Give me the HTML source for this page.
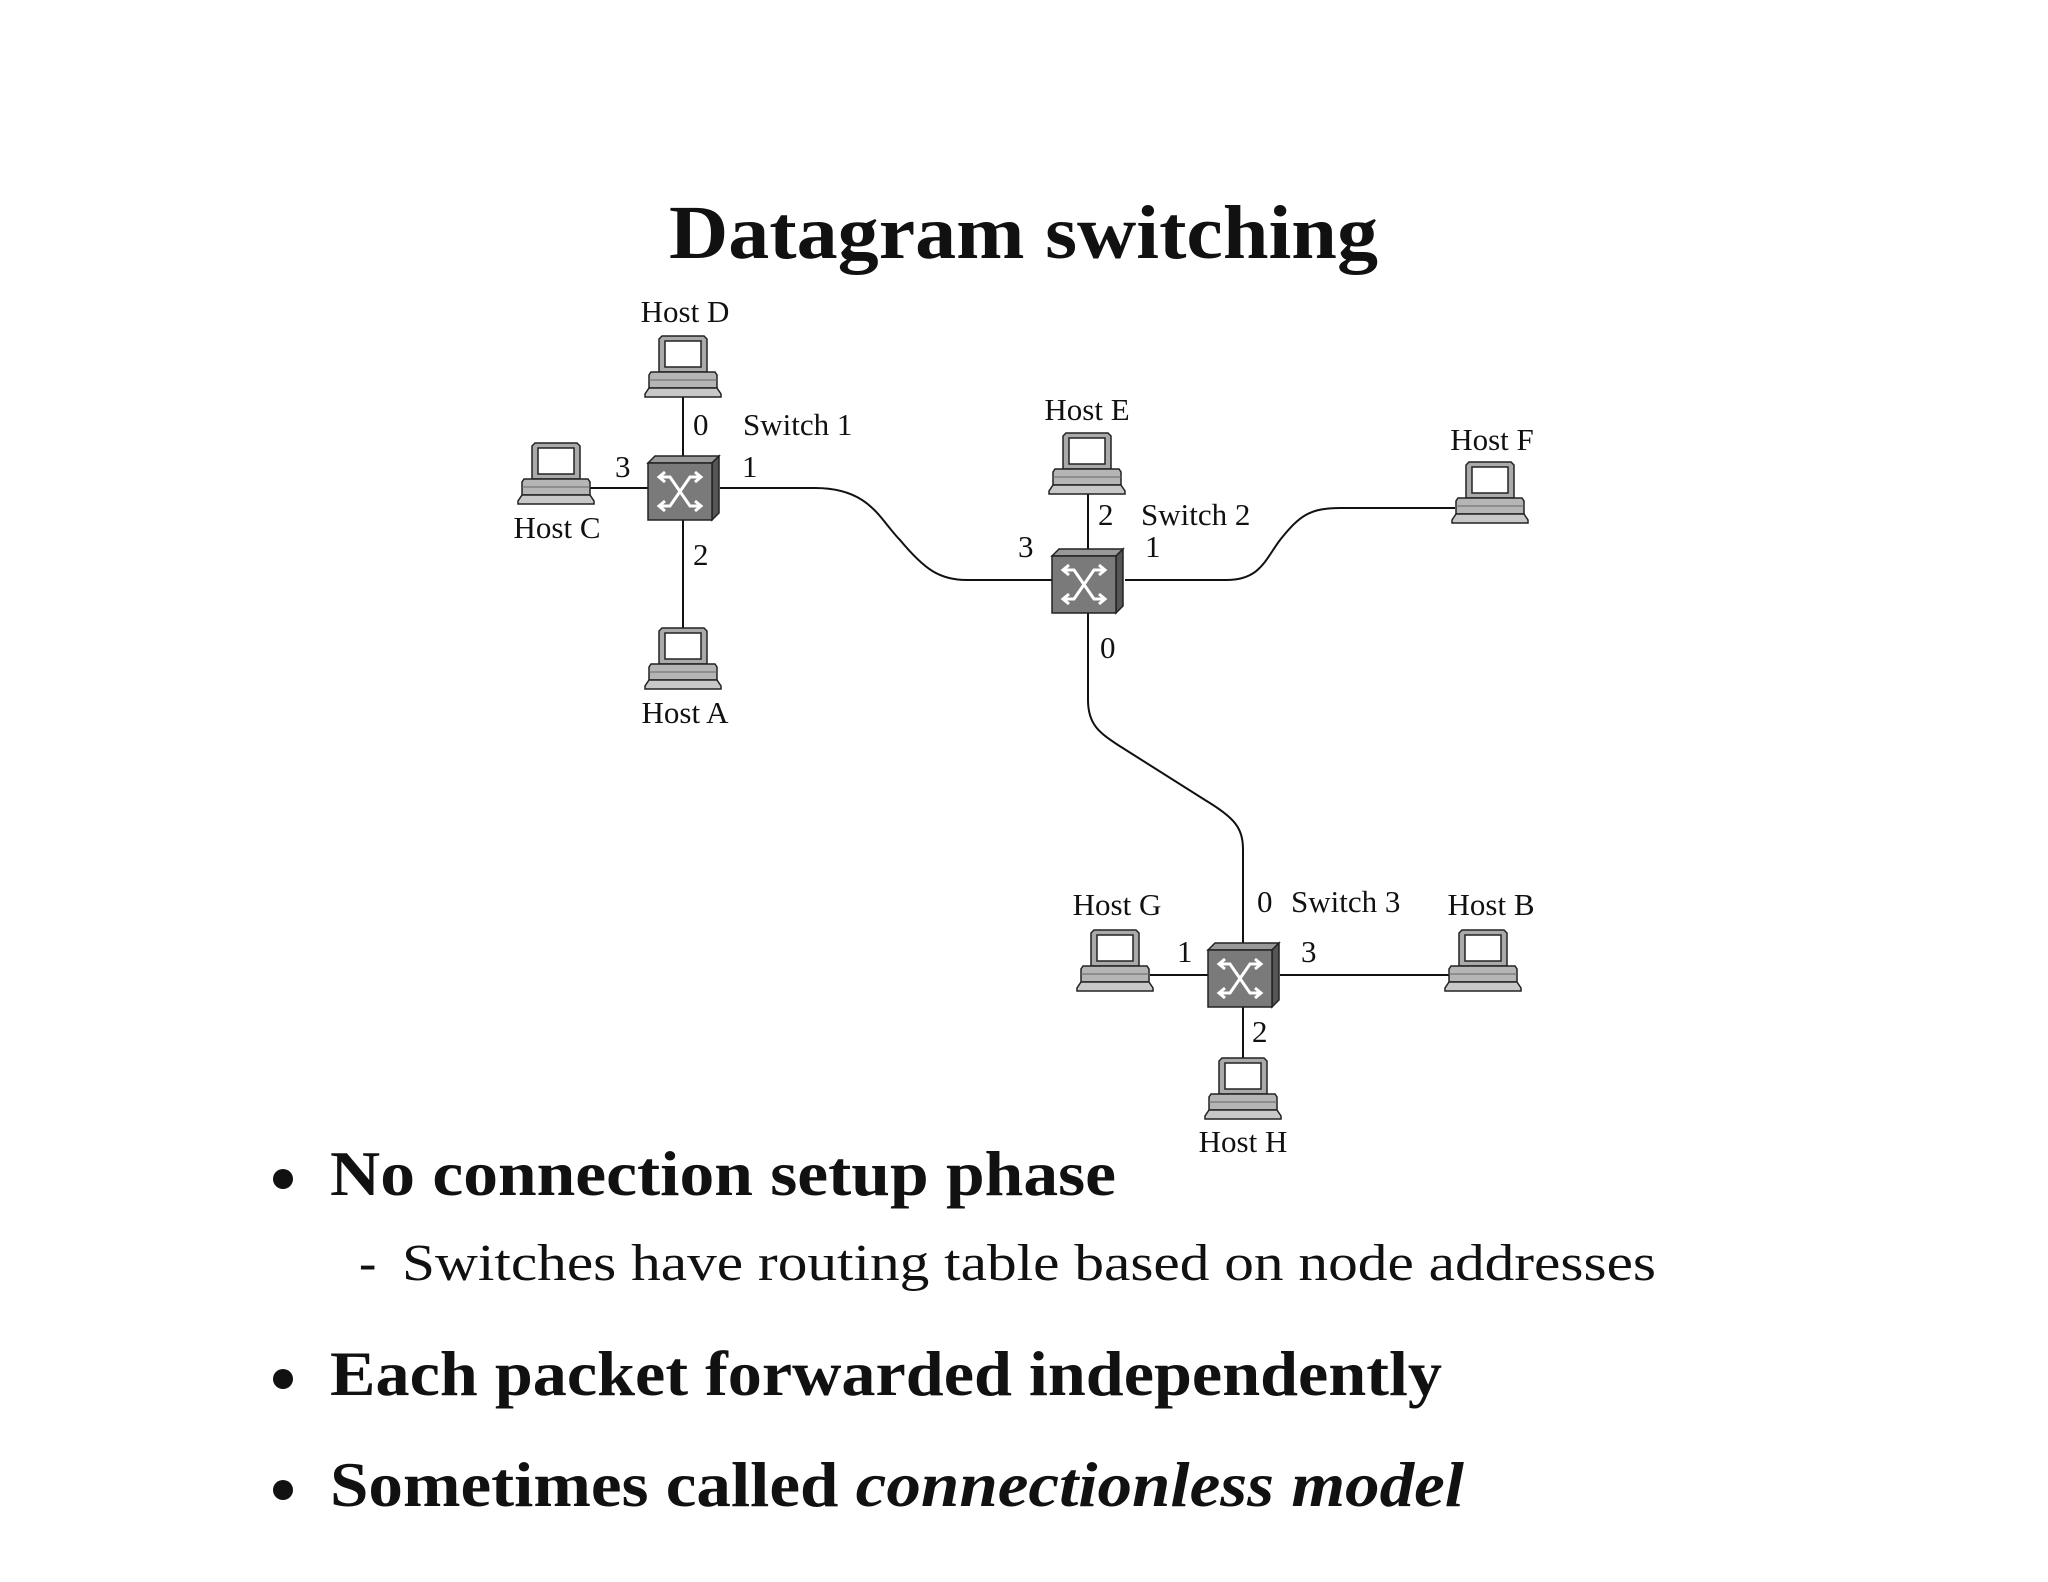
<!DOCTYPE html>
<html><head><meta charset="utf-8"><style>
html,body{margin:0;padding:0;background:#fff}
svg{display:block}
text{font-family:"Liberation Serif",serif;fill:#111}
.l{font-size:31px}
</style></head><body>
<svg width="2048" height="1582" viewBox="0 0 2048 1582" xmlns="http://www.w3.org/2000/svg">
<defs>
<g id="host" stroke="#222" stroke-width="1.5">
<path d="M3,0 H45 L48,3 V36 H0 V3 Z" fill="#aaa"/>
<rect x="6" y="5" width="36" height="26" fill="#fff"/>
<path d="M-8,36 H56 L58,39 V52 H-10 V39 Z" fill="#b5b5b5"/>
<line x1="-10" y1="44" x2="58" y2="44" stroke="#666" stroke-width="1"/>
<path d="M-10,52 H58 L62,58 V61 H-14 V58 Z" fill="#c8c8c8"/>
</g>
<g id="sw" stroke="#222" stroke-width="1.5">
<path d="M0,0 L7,-7 H71 L64,0 Z" fill="#999"/>
<path d="M64,0 L71,-7 V50 L64,57 Z" fill="#555"/>
<rect x="0" y="0" width="64" height="57" fill="#7a7a7a"/>
<g fill="none" stroke="#fff" stroke-width="3">
<path d="M12,14 H22 L42,43 H52"/>
<path d="M12,43 H22 L42,14 H52"/>
<path d="M17,9 L11,14 L17,19 M17,38 L11,43 L17,48 M47,9 L53,14 L47,19 M47,38 L53,43 L47,48"/>
</g>
</g>
</defs>

<text x="669" y="258" font-size="76" font-weight="bold" textLength="709" lengthAdjust="spacingAndGlyphs">Datagram switching</text>

<g fill="none" stroke="#111" stroke-width="2">
<line x1="683" y1="397" x2="683" y2="463"/>
<line x1="590" y1="488" x2="648" y2="488"/>
<line x1="683" y1="520" x2="683" y2="628"/>
<path d="M720,488 H815 C870,488 880,520 900,540 C925,570 940,580 967,580 H1052"/>
<line x1="1088" y1="494" x2="1088" y2="556"/>
<path d="M1125,580 H1226 C1260,580 1265,560 1280,540 C1300,515 1310,508 1341,508 H1455"/>
<path d="M1088,612 V700 C1088,725 1100,733 1118,745 L1205,800 C1235,818 1243,828 1243,850 V944"/>
<line x1="1150" y1="975" x2="1208" y2="975"/>
<line x1="1280" y1="975" x2="1449" y2="975"/>
<line x1="1243" y1="1006" x2="1243" y2="1058"/>
</g>

<use href="#host" x="659" y="336"/>
<use href="#host" x="532" y="443"/>
<use href="#host" x="659" y="628"/>
<use href="#host" x="1063" y="433"/>
<use href="#host" x="1466" y="462"/>
<use href="#host" x="1091" y="930"/>
<use href="#host" x="1459" y="930"/>
<use href="#host" x="1219" y="1058"/>

<use href="#sw" x="648" y="463"/>
<use href="#sw" x="1052" y="556"/>
<use href="#sw" x="1208" y="950"/>

<g class="l">
<text x="685" y="322" text-anchor="middle">Host D</text>
<text x="557" y="538" text-anchor="middle">Host C</text>
<text x="685" y="723" text-anchor="middle">Host A</text>
<text x="693" y="435">0</text>
<text x="743" y="435">Switch 1</text>
<text x="615" y="477">3</text>
<text x="742" y="477">1</text>
<text x="693" y="565">2</text>
<text x="1087" y="420" text-anchor="middle">Host E</text>
<text x="1492" y="450" text-anchor="middle">Host F</text>
<text x="1098" y="525">2</text>
<text x="1141" y="525">Switch 2</text>
<text x="1018" y="557">3</text>
<text x="1145" y="557">1</text>
<text x="1100" y="658">0</text>
<text x="1117" y="915" text-anchor="middle">Host G</text>
<text x="1491" y="915" text-anchor="middle">Host B</text>
<text x="1257" y="912">0</text>
<text x="1291" y="912">Switch 3</text>
<text x="1177" y="962">1</text>
<text x="1301" y="962">3</text>
<text x="1252" y="1042">2</text>
<text x="1243" y="1152" text-anchor="middle">Host H</text>
</g>

<circle cx="283" cy="1179" r="10" fill="#111"/>
<text x="330" y="1195" font-size="64" font-weight="bold" textLength="786" lengthAdjust="spacingAndGlyphs">No connection setup phase</text>
<text x="359" y="1280" font-size="52">-</text>
<text x="402" y="1280" font-size="52" textLength="1254" lengthAdjust="spacingAndGlyphs">Switches have routing table based on node addresses</text>
<circle cx="283" cy="1379" r="10" fill="#111"/>
<text x="330" y="1395" font-size="64" font-weight="bold" textLength="1112" lengthAdjust="spacingAndGlyphs">Each packet forwarded independently</text>
<circle cx="283" cy="1490" r="10" fill="#111"/>
<text x="330" y="1506" font-size="64" font-weight="bold" textLength="1134" lengthAdjust="spacingAndGlyphs">Sometimes called <tspan font-style="italic">connectionless model</tspan></text>
</svg>
</body></html>
